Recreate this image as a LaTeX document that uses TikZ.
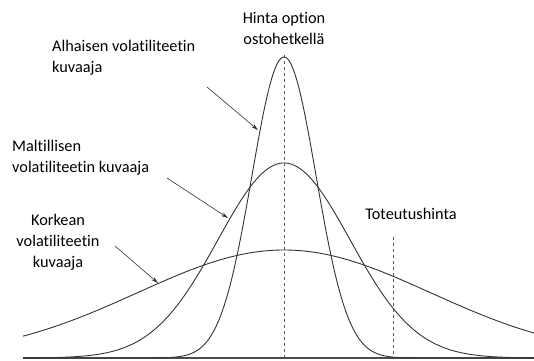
\documentclass[tikz,border=0pt]{standalone}
\usepackage{fontspec}
\setmainfont[Ligatures=NoCommon]{Carlito}
\usetikzlibrary{arrows.meta}

\begin{document}
\begin{tikzpicture}[x=1pt,y=-1pt,
  lbl/.style={font=\fontsize{16.3}{21}\selectfont,align=left,inner sep=0pt},
  curve/.style={line width=0.9pt,black!80},
  guide/.style={dashed,black!65,line width=0.7pt},
  pointer/.style={-{Stealth[length=7pt,width=4pt]},black!80,line width=0.6pt}]
\useasboundingbox (0,0) rectangle (534,360);
\draw[line width=1.8pt,black!70] (23,358) -- (534,358);
\draw[guide] (284,55) -- (284,358);
\draw[guide] (393,237) -- (393,358);
\draw[curve] plot[domain=23:534,samples=260] (\x,{358-301*exp(-0.5*((\x-284)/32)^2)});
\draw[curve] plot[domain=23:534,samples=200] (\x,{358-195*exp(-0.5*((\x-284)/66)^2)});
\draw[curve] plot[domain=23:534,samples=150] (\x,{358-108*exp(-0.5*((\x-284)/146)^2)});
\node[lbl,align=center] (hinta) at (284,28) {Hinta option\\ostohetkellä};
\node[lbl,anchor=west] (alh) at (52,58) {Alhaisen volatiliteetin\\kuvaaja};
\node[lbl,anchor=west] (mal) at (12,158) {Maltillisen\\volatiliteetin kuvaaja};
\node[lbl,align=center] (kor) at (58,242) {Korkean\\volatiliteetin\\kuvaaja};
\node[lbl] (tot) at (411,214) {Toteutushinta};
\coordinate (alhstart) at (207,87);
\coordinate (malstart) at (167,178);
\coordinate (korstart) at (115,246);
\coordinate (alhend) at (258,130);
\coordinate (malend) at (228,218);
\coordinate (korend) at (158,283);
\draw[pointer] (alhstart) -- (alhend);
\draw[pointer] (malstart) -- (malend);
\draw[pointer] (korstart) -- (korend);
\end{tikzpicture}
\end{document}
